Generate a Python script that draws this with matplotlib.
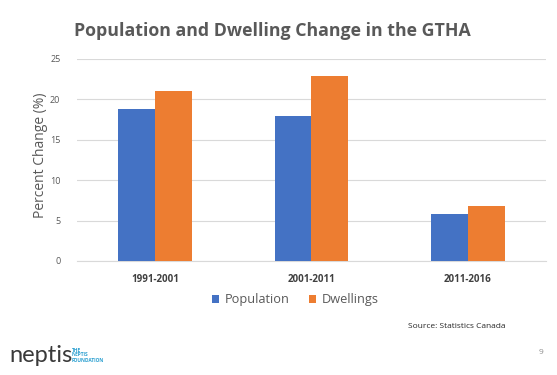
import matplotlib
matplotlib.use("Agg")
import matplotlib.pyplot as plt
import numpy as np

categories = ["1991-2001", "2001-2011", "2011-2016"]
population = [18.8, 17.9, 5.8]
dwellings = [21.1, 22.9, 6.85]
yticks = [0, 5, 10, 15, 20, 25]

FONT = ["Open Sans", "DejaVu Sans"]
plt.rcParams['font.family'] = FONT

fig = plt.figure(figsize=(5.57, 3.75), dpi=100)
W, H = 557, 375
ax = fig.add_axes([77 / W, 1 - 261 / H, (546 - 77) / W, (261 - 59) / H])

x = np.arange(len(categories))
bw = 0.236
ax.bar(x - bw / 2, population, bw, color="#4472C4", label="Population", zorder=3)
ax.bar(x + bw / 2, dwellings, bw, color="#ED7D31", label="Dwellings", zorder=3)

ax.set_xlim(-0.5, len(categories) - 0.5)
ax.set_ylim(0, 25)
ax.set_yticks(yticks)
ax.set_yticklabels([str(t) for t in yticks], fontsize=6.5, color="#595959")
ax.set_xticks(x)
ax.set_xticklabels(categories, fontsize=7, fontweight="bold", color="#404040")
ax.tick_params(axis="both", length=0)
ax.tick_params(axis="y", pad=12)
ax.tick_params(axis="x", pad=9)
ax.grid(axis="y", color="#D9D9D9", linewidth=0.8, zorder=0)
for s in ["top", "right", "left"]:
    ax.spines[s].set_visible(False)
ax.spines["bottom"].set_color("#D9D9D9")
ax.spines["bottom"].set_linewidth(0.8)

ax.set_ylabel("Percent Change (%)", fontsize=10, color="#595959", va="center")
ax.yaxis.set_label_coords((41 - 77) / 469, (261 - 155) / 202)

leg = fig.legend(loc="center", bbox_to_anchor=(295 / W, 1 - 300 / H), ncol=2,
                 frameon=False, fontsize=9.2, handlelength=0.6, handleheight=0.6,
                 handletextpad=0.4, columnspacing=1.5, labelcolor="#595959")

fig.text(272 / W, 1 - 31 / H, "Population and Dwelling Change in the GTHA",
         ha="center", va="center", fontsize=12.8, fontweight="bold", color="#595959")

fig.text(505 / W, 1 - 326 / H, "Source: Statistics Canada", ha="right", va="center",
         fontsize=6, color="#262626")
fig.text(541 / W, 1 - 352 / H, "9", ha="center", va="center", fontsize=6, color="#8c8c8c")

fig.text(9 / W, 1 - 355 / H, "neptis", ha="left", va="center", fontsize=17,
         color="#3a3a3a", family=["Lato", "DejaVu Sans"])
fig.text(72 / W, 1 - 355 / H, "THE\nNEPTIS\nFOUNDATION", ha="left", va="center",
         fontsize=3.5, fontweight="bold", color="#2a9fd0", linespacing=1.0)

fig.savefig("out.png", dpi=100)
